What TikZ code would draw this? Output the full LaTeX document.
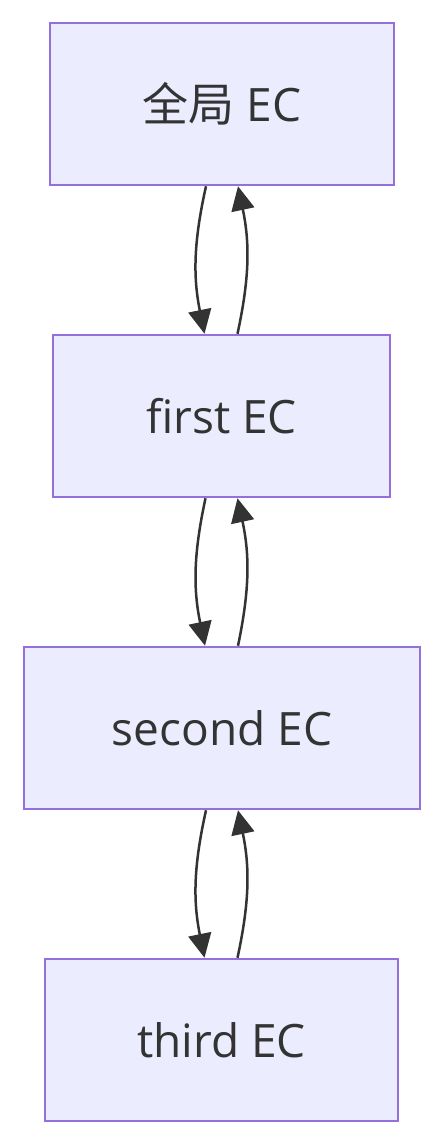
\documentclass[tikz,border=0pt]{standalone}
\usepackage{fontspec}
\setmainfont{Open Sans}
\newfontfamily\cjk{Noto Sans CJK SC}
\usetikzlibrary{arrows.meta}
\definecolor{ecfill}{HTML}{ECECFF}
\definecolor{ecline}{HTML}{9370DB}
\definecolor{ectext}{HTML}{333333}
\tikzset{
  ecbox/.style={draw=ecline,fill=ecfill,line width=2.5pt,minimum height=162pt,
    text=ectext,font=\fontsize{46}{54}\selectfont,inner sep=0pt},
  eclink/.style={draw=ectext,line width=2.5pt,-{Triangle[length=24pt,width=23pt]}}
}
\begin{document}
\begin{tikzpicture}[x=1pt,y=-1pt]
\useasboundingbox[fill=white] (0,0) rectangle (444,1146);

\node[ecbox,minimum width=344pt] (global) at (222,104) {{\cjk 全局} EC};
\node[ecbox,minimum width=337pt] (first) at (221.5,416) {first EC};
\node[ecbox,minimum width=396pt] (second) at (222,728) {second EC};
\node[ecbox,minimum width=353pt] (third) at (221.5,1040) {third EC};

\foreach \up/\down in {global/first,first/second,second/third}{
  \draw[eclink] ([xshift=-16pt]\up.south) to[bend right=12] ([xshift=-17pt]\down.north);
  \draw[eclink] ([xshift=16pt]\down.north) to[bend right=12] ([xshift=16pt]\up.south);
}

\end{tikzpicture}
\end{document}
